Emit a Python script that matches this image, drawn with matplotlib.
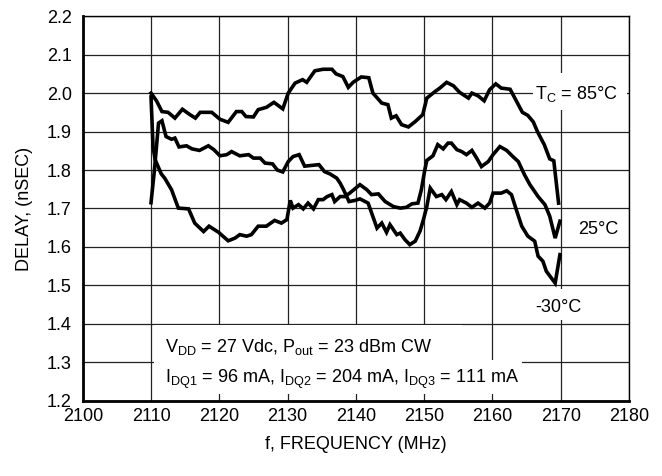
import matplotlib
matplotlib.use("Agg")
import matplotlib.pyplot as plt
from matplotlib import font_manager
from matplotlib.patches import Rectangle

names = {f.name for f in font_manager.fontManager.ttflist}
font = 'Liberation Sans Narrow' if 'Liberation Sans Narrow' in names else 'Liberation Sans'
plt.rcParams['font.family'] = [font, 'DejaVu Sans']
plt.rcParams['mathtext.fontset'] = 'custom'
plt.rcParams['mathtext.rm'] = font
plt.rcParams['mathtext.it'] = font
FS = 13

# Tc = 85 C
f85 = [2110.0, 2110.8, 2111.6, 2112.5, 2113.5, 2114.6, 2115.7, 2116.5, 2117.2, 2118.9,
       2120.1, 2121.3, 2122.5, 2123.3, 2123.9, 2125.0, 2125.7, 2126.9, 2128.0, 2129.3,
       2130.1, 2131.1, 2132.2, 2132.8, 2134.0, 2135.2, 2136.5, 2137.1, 2138.1, 2138.9,
       2139.6, 2140.8, 2141.9, 2142.5, 2143.8, 2144.7, 2145.2, 2145.9, 2146.7, 2147.7,
       2148.7, 2149.8, 2150.4, 2151.6, 2152.3, 2153.3, 2154.3, 2155.2, 2156.5, 2157.0,
       2157.9, 2158.8, 2159.6, 2160.5, 2161.3, 2162.6, 2163.2, 2164.4, 2165.2, 2166.0,
       2166.6, 2167.6, 2168.4, 2169.0, 2169.7]
d85 = [2.000, 1.980, 1.952, 1.950, 1.935, 1.958, 1.944, 1.935, 1.950, 1.950,
       1.932, 1.924, 1.952, 1.952, 1.939, 1.938, 1.957, 1.963, 1.976, 1.959,
       2.000, 2.026, 2.035, 2.028, 2.058, 2.062, 2.062, 2.050, 2.043, 2.015,
       2.028, 2.042, 2.040, 2.000, 1.974, 1.970, 1.935, 1.941, 1.918, 1.912,
       1.926, 1.944, 1.987, 2.004, 2.013, 2.028, 2.019, 2.002, 1.987, 2.000,
       1.993, 1.980, 2.009, 2.024, 2.013, 2.010, 1.990, 1.950, 1.942, 1.925,
       1.900, 1.866, 1.829, 1.824, 1.714]

# trace that starts low at 2110 and ends at the -30 C label
fa = [2110.0, 2110.5, 2111.1, 2111.6, 2112.2, 2113.0, 2113.5, 2114.1, 2115.2, 2116.0,
      2117.1, 2118.4, 2119.2, 2120.1, 2121.1, 2121.8, 2123.0, 2124.3, 2125.0, 2126.0,
      2126.7, 2127.8, 2128.5, 2129.3, 2130.1, 2130.8, 2131.7, 2132.5, 2133.5, 2134.6,
      2135.4, 2136.2, 2137.2, 2137.7, 2138.2, 2139.0, 2139.9, 2140.6, 2141.8, 2142.5,
      2143.1, 2143.8, 2144.5, 2145.0, 2146.0, 2146.5, 2147.2, 2147.9, 2148.7, 2149.4,
      2149.9, 2150.4, 2150.9, 2151.8, 2152.6, 2153.2, 2154.0, 2154.8, 2155.2, 2156.2,
      2157.0, 2157.9, 2158.9, 2159.6, 2160.1, 2161.3, 2162.1, 2162.8, 2163.5, 2164.3,
      2165.2, 2166.2, 2166.7, 2167.4, 2167.9, 2169.2, 2169.9]
da = [1.715, 1.800, 1.922, 1.928, 1.887, 1.880, 1.883, 1.860, 1.863, 1.855,
      1.851, 1.863, 1.853, 1.837, 1.840, 1.848, 1.837, 1.840, 1.831, 1.831,
      1.818, 1.816, 1.800, 1.795, 1.822, 1.835, 1.840, 1.810, 1.812, 1.814,
      1.796, 1.790, 1.779, 1.766, 1.749, 1.718, 1.721, 1.725, 1.714, 1.679,
      1.649, 1.662, 1.638, 1.658, 1.632, 1.636, 1.619, 1.606, 1.615, 1.641,
      1.671, 1.705, 1.753, 1.731, 1.736, 1.723, 1.744, 1.710, 1.723, 1.714,
      1.703, 1.714, 1.701, 1.714, 1.740, 1.740, 1.746, 1.736, 1.697, 1.654,
      1.628, 1.615, 1.576, 1.563, 1.537, 1.506, 1.580]

# trace that starts at 2.0 and ends at the 25 C label
fb = [2110.0, 2110.3, 2110.6, 2111.5, 2112.0, 2113.0, 2114.0, 2115.5, 2116.4, 2117.7,
      2118.5, 2119.9, 2121.3, 2122.3, 2123.0, 2124.0, 2124.7, 2125.7, 2126.9, 2128.1,
      2129.1, 2129.9, 2130.4, 2130.8, 2131.6, 2132.3, 2133.0, 2133.8, 2134.5, 2135.2,
      2135.8, 2136.5, 2136.9, 2137.7, 2138.4, 2139.1, 2140.6, 2141.6, 2142.3, 2143.3,
      2144.3, 2145.5, 2146.5, 2147.4, 2148.2, 2149.1, 2149.6, 2150.1, 2150.4, 2151.3,
      2152.0, 2152.8, 2153.5, 2154.0, 2154.8, 2155.5, 2156.2, 2157.0, 2157.7, 2158.4,
      2159.4, 2160.1, 2161.1, 2162.1, 2163.0, 2163.8, 2164.7, 2165.5, 2166.7, 2167.7,
      2168.4, 2169.2, 2169.9]
db = [1.990, 1.860, 1.827, 1.790, 1.779, 1.749, 1.701, 1.699, 1.662, 1.640,
      1.654, 1.638, 1.616, 1.623, 1.632, 1.628, 1.632, 1.654, 1.654, 1.669,
      1.662, 1.671, 1.721, 1.701, 1.710, 1.699, 1.714, 1.699, 1.723, 1.723,
      1.731, 1.736, 1.718, 1.731, 1.731, 1.740, 1.762, 1.749, 1.736, 1.738,
      1.718, 1.705, 1.701, 1.703, 1.712, 1.714, 1.749, 1.800, 1.825, 1.837,
      1.866, 1.855, 1.870, 1.870, 1.853, 1.848, 1.840, 1.851, 1.831, 1.809,
      1.822, 1.840, 1.861, 1.851, 1.835, 1.822, 1.788, 1.762, 1.731, 1.710,
      1.680, 1.623, 1.667]

xticks = list(range(2100, 2181, 10))
yticks = [1.2, 1.3, 1.4, 1.5, 1.6, 1.7, 1.8, 1.9, 2.0, 2.1, 2.2]

fig = plt.figure(figsize=(6.62, 4.76), dpi=100)
ax = fig.add_axes([0.125, 0.158, 0.825, 0.808])

for f, d in [(f85, d85), (fa, da), (fb, db)]:
    ax.plot(f, d, color='black', lw=2.6, solid_joinstyle='miter', zorder=3)

ax.set_xlim(2100, 2180)
ax.set_ylim(1.2, 2.2)
ax.set_xticks(xticks)
ax.set_yticks(yticks)
ax.set_yticklabels([f'{v:.1f}' for v in yticks])
ax.grid(True, color='#222222', lw=0.9, zorder=1)
ax.set_axisbelow(True)
ax.tick_params(length=0, labelsize=FS, colors='black')
ax.tick_params(axis='y', pad=8)
ax.tick_params(axis='x', pad=5)
for s in ['top', 'right']:
    ax.spines[s].set_linewidth(1.0)
for s in ['left', 'bottom']:
    ax.spines[s].set_linewidth(2.0)

ax.set_xlabel('f, FREQUENCY (MHz)', fontsize=FS, labelpad=8)
ax.set_ylabel('DELAY, (nSEC)', fontsize=FS, labelpad=10)

# white cover boxes behind labels
for (x0, y0, w, h) in [(2165.9, 1.956, 13.8, 0.097), (2166.5, 1.41, 7.0, 0.08),
                       (2110.5, 1.218, 53.8, 0.089), (2110.5, 1.305, 45.0, 0.093)]:
    ax.add_patch(Rectangle((x0, y0), w, h, facecolor='white', edgecolor='none', zorder=2))

ax.text(2166.2, 1.997, r'$\mathregular{T_C}$ = 85°C', fontsize=FS, ha='left', va='center', zorder=4)
ax.text(2172.5, 1.645, '25°C', fontsize=FS, ha='left', va='center', zorder=4)
ax.text(2169.6, 1.442, '-30°C', fontsize=FS, ha='center', va='center', zorder=4)
ax.text(2112.1, 1.341, r'$\mathregular{V_{DD}}$ = 27 Vdc, $\mathregular{P_{out}}$ = 23 dBm CW',
        fontsize=FS, ha='left', va='center', zorder=4)
ax.text(2112.1, 1.255, r'$\mathregular{I_{DQ1}}$ = 96 mA, $\mathregular{I_{DQ2}}$ = 204 mA, '
        r'$\mathregular{I_{DQ3}}$ = 111 mA', fontsize=FS, ha='left', va='center', zorder=4)

fig.savefig('out.png', dpi=100)
